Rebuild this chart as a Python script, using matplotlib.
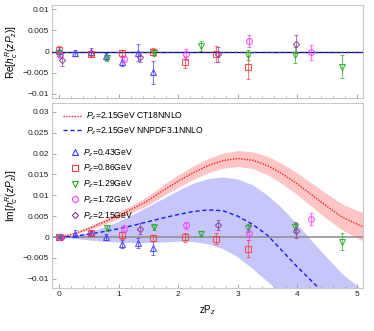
import matplotlib
matplotlib.use("Agg")
import matplotlib.pyplot as plt
from matplotlib.lines import Line2D
from matplotlib.ticker import MultipleLocator

plt.rcParams['font.family'] = ['Liberation Sans', 'DejaVu Sans']
plt.rcParams['mathtext.fontset'] = 'custom'
plt.rcParams['mathtext.rm'] = 'Liberation Sans'
plt.rcParams['mathtext.it'] = 'Liberation Sans:italic'

# ---------------- data ----------------
labels = ['$P_z$=0.43GeV', '$P_z$=0.86GeV', '$P_z$=1.29GeV', '$P_z$=1.72GeV', '$P_z$=2.15GeV']

x_043 = [0.0, 0.26, 0.53, 0.79, 1.06, 1.32, 1.58]
x_086 = [0.0, 0.53, 1.06, 1.58, 2.12, 2.64, 3.17]
x_129 = [0.0, 0.80, 1.59, 2.38, 3.17, 3.96, 4.74]
x_172 = [0.02, 1.09, 2.13, 3.18, 4.23]
x_215 = [0.04, 1.35, 2.66, 3.97]

re_043 = [0.0002, -0.0003, -0.0002, -0.0011, -0.0024, -0.0003, -0.0049]
re_043_err = [0.0009, 0.0007, 0.0010, 0.0008, 0.0010, 0.0020, 0.0027]
re_086 = [0.0004, -0.0005, -0.0003, 0.0, -0.0026, -0.0006, -0.0037]
re_086_err = [0.0008, 0.0005, 0.0007, 0.0008, 0.0013, 0.0019, 0.0027]
re_129 = [-0.0003, -0.0015, -0.0003, 0.0013, -0.0009, -0.0009, -0.0036]
re_129_err = [0.0007, 0.0007, 0.0007, 0.0011, 0.0012, 0.0019, 0.0027]
re_172 = [-0.0008, -0.0017, -0.0007, 0.0025, -0.0002]
re_172_err = [0.0006, 0.0007, 0.0014, 0.0015, 0.0018]
re_215 = [-0.0019, -0.0013, -0.0007, 0.0018]
re_215_err = [0.0016, 0.0012, 0.0018, 0.0022]

im_043 = [0.0, 0.0008, 0.0010, 0.0, -0.0017, -0.0014, -0.0026]
im_043_err = [0.0003, 0.0008, 0.0005, 0.0007, 0.0009, 0.0012, 0.0017]
im_086 = [0.0, 0.0010, 0.0004, -0.0002, -0.0001, -0.0004, -0.0028]
im_086_err = [0.0003, 0.0005, 0.0008, 0.0008, 0.0010, 0.0013, 0.0020]
im_129 = [0.0, 0.0022, 0.0024, 0.0008, 0.0022, 0.0023, -0.0011]
im_129_err = [0.0003, 0.0007, 0.0006, 0.0006, 0.0009, 0.0012, 0.0020]
im_172 = [0.0, 0.0020, 0.0028, 0.0010, 0.0043]
im_172_err = [0.0003, 0.0008, 0.0009, 0.0016, 0.0015]
im_215 = [0.0, 0.0020, 0.0028, 0.0015]
im_215_err = [0.0003, 0.0013, 0.0012, 0.0018]

# theory curves
zp_curve = [0.0, 0.25, 0.5, 0.75, 1.0, 1.25, 1.5, 1.75, 2.0, 2.25, 2.5, 2.75,
            3.0, 3.25, 3.5, 3.75, 4.0, 4.25, 4.5, 4.75, 5.0, 5.1]
ct18_c = [0.0, 0.0008, 0.0021, 0.0036, 0.0052, 0.0069, 0.0088, 0.0112, 0.0134,
          0.0154, 0.0171, 0.0183, 0.0188, 0.0184, 0.0171, 0.0151, 0.0127, 0.0100,
          0.0073, 0.0048, 0.0031, 0.0025]
ct18_w = [0.0, 0.0002, 0.0004, 0.0006, 0.0008, 0.0009, 0.0011, 0.0013, 0.0015,
          0.0016, 0.0017, 0.0018, 0.0019, 0.0020, 0.0022, 0.0024, 0.0026, 0.0028,
          0.0030, 0.0031, 0.0033, 0.0034]

zp_nn = [0.0, 0.25, 0.5, 0.75, 1.0, 1.25, 1.5, 1.75, 2.0, 2.25, 2.5, 2.75,
         3.0, 3.25, 3.5, 3.75, 4.0, 4.25, 4.45]
nn_c = [0.0, 0.0002, 0.0007, 0.0013, 0.0020, 0.0028, 0.0037, 0.0046, 0.0054,
        0.0061, 0.0065, 0.0063, 0.0050, 0.0030, 0.0004, -0.0034, -0.0072,
        -0.0107, -0.0135]
zp_band = [0.0, 0.25, 0.5, 0.75, 1.0, 1.25, 1.5, 1.75, 2.0, 2.25, 2.5, 2.75,
           3.0, 3.25, 3.5, 3.75, 4.0, 4.25, 4.5, 4.75, 5.0, 5.1]
nn_up = [0.0, 0.0003, 0.0012, 0.0024, 0.0038, 0.0055, 0.0074, 0.0093, 0.0112,
         0.0129, 0.0140, 0.0144, 0.0139, 0.0125, 0.0100, 0.0068, 0.0030,
         -0.0011, -0.0050, -0.0088, -0.0116, -0.0130]
nn_lo = [0.0, -0.0003, -0.0007, -0.0010, -0.0012, -0.0013, -0.0013, -0.0012,
         -0.0010, -0.0011, -0.0016, -0.0028, -0.0048, -0.0076, -0.0107, -0.0140,
         -0.0175, -0.0210, -0.0245, -0.0280, -0.0315, -0.0330]

# ---------------- styling ----------------
colors = ['#3b3bff', '#ff3b3b', '#22aa22', '#ff33ff', '#8a3a9a']
markers = ['^', 's', 'v', 'o', 'D']
msizes = [4.2, 4.2, 4.2, 4.2, 3.2]
frame_col = '#c8c8c8'
tick_col = '#222222'

fig = plt.figure(figsize=(3.74, 3.31), dpi=100)
ax1 = fig.add_axes([52/374, 1-98/331, 311/374, 93/331])
ax2 = fig.add_axes([52/374, 1-288/331, 311/374, 185/331])

re_sets = [(x_043, re_043, re_043_err), (x_086, re_086, re_086_err),
           (x_129, re_129, re_129_err), (x_172, re_172, re_172_err),
           (x_215, re_215, re_215_err)]
im_sets = [(x_043, im_043, im_043_err), (x_086, im_086, im_086_err),
           (x_129, im_129, im_129_err), (x_172, im_172, im_172_err),
           (x_215, im_215, im_215_err)]


def draw_points(ax, sets):
    for (xs, ys, es), c, m, ms in zip(sets, colors, markers, msizes):
        ax.errorbar(xs, ys, yerr=es, fmt='none', ecolor=c, elinewidth=0.8,
                    capsize=1.5, capthick=0.8, alpha=0.65, zorder=4)
        ax.plot(xs, ys, linestyle='none', marker=m, markersize=ms,
                markerfacecolor='none', markeredgecolor=c, markeredgewidth=0.8,
                alpha=0.85, zorder=5)


# top panel
ax1.axhline(0, color='#000033', lw=0.9, zorder=3)
ax1.axhline(0, color='#3030c0', lw=0.9, ls=(0, (3, 2)), zorder=3)
draw_points(ax1, re_sets)
ax1.set_xlim(-0.12, 5.1)
ax1.set_ylim(-0.011, 0.011)
ax1.set_yticks([-0.01, -0.005, 0, 0.005, 0.01])
ax1.set_yticklabels(['\u22120.01', '\u22120.005', '0', '0.005', '0.01'])
ax1.set_xticks([0, 1, 2, 3, 4, 5])
ax1.set_xticklabels([])
ax1.set_ylabel('Re[$h_c^R(zP_z)$]', fontsize=7.3, labelpad=2)

# bottom panel
ax2.fill_between(zp_curve, [c - w for c, w in zip(ct18_c, ct18_w)],
                 [c + w for c, w in zip(ct18_c, ct18_w)],
                 color='#ffc4c4', lw=0, zorder=1)
ax2.fill_between(zp_band, nn_lo, nn_up, color='#c6c6fa', lw=0, zorder=1.1)
ax2.axhline(0, color='#8c8c8c', lw=1.4, alpha=0.8, zorder=2)
ax2.plot(zp_curve, ct18_c, color='#ff2020', lw=1.0, ls=(0, (1, 1)), zorder=3)
ax2.plot(zp_nn, nn_c, color='#1a1aff', lw=1.0, ls=(0, (3, 2)), zorder=3)
draw_points(ax2, im_sets)
ax2.set_xlim(-0.12, 5.1)
ax2.set_ylim(-0.0122, 0.0321)
yt = [-0.01, -0.005, 0, 0.005, 0.01, 0.015, 0.02, 0.025, 0.03]
ax2.set_yticks(yt)
ax2.set_yticklabels(['\u22120.01', '\u22120.005', '0', '0.005', '0.01', '0.015',
                     '0.02', '0.025', '0.03'])
ax2.set_xticks([0, 1, 2, 3, 4, 5])
ax2.set_xticklabels(['0', '1', '2', '3', '4', '5'])
ax2.set_xlabel('zP$_z$', fontsize=7, labelpad=4)
ax2.set_ylabel('Im[$h_c^R(zP_z)$]', fontsize=7.3, labelpad=2)

for ax in (ax1, ax2):
    for s in ax.spines.values():
        s.set_color(frame_col)
        s.set_linewidth(0.8)
    ax.xaxis.set_minor_locator(MultipleLocator(0.2))
    ax.tick_params(axis='both', which='major', direction='in', length=3,
                   width=0.6, color='#999999', labelsize=6, labelcolor=tick_col,
                   pad=2)
    ax.tick_params(axis='both', which='minor', direction='in', length=1.5,
                   width=0.5, color='#999999')

# legends
line_handles = [
    Line2D([], [], color='#ff2020', lw=1.0, ls=(0, (1, 1))),
    Line2D([], [], color='#1a1aff', lw=1.0, ls=(0, (3, 2))),
]
leg1 = ax2.legend(line_handles,
                  ['$P_z$=2.15GeV CT18NNLO', '$P_z$=2.15GeV NNPDF3.1NNLO'],
                  loc='upper left', bbox_to_anchor=(0.02, 0.985), frameon=False,
                  fontsize=6.2, handlelength=2.2, handletextpad=0.4,
                  labelspacing=0.3, borderaxespad=0.2)
ax2.add_artist(leg1)
mk_handles = [Line2D([], [], ls='none', marker=m, markersize=ms,
                     markerfacecolor='none', markeredgecolor=c,
                     markeredgewidth=0.8)
              for c, m, ms in zip(colors, markers, msizes)]
ax2.legend(mk_handles, labels, loc='upper left', bbox_to_anchor=(0.045, 0.79),
           frameon=False, fontsize=6.2, handlelength=1.0, handletextpad=0.35,
           labelspacing=0.5, borderaxespad=0.2)

fig.savefig('out.png', dpi=100)
